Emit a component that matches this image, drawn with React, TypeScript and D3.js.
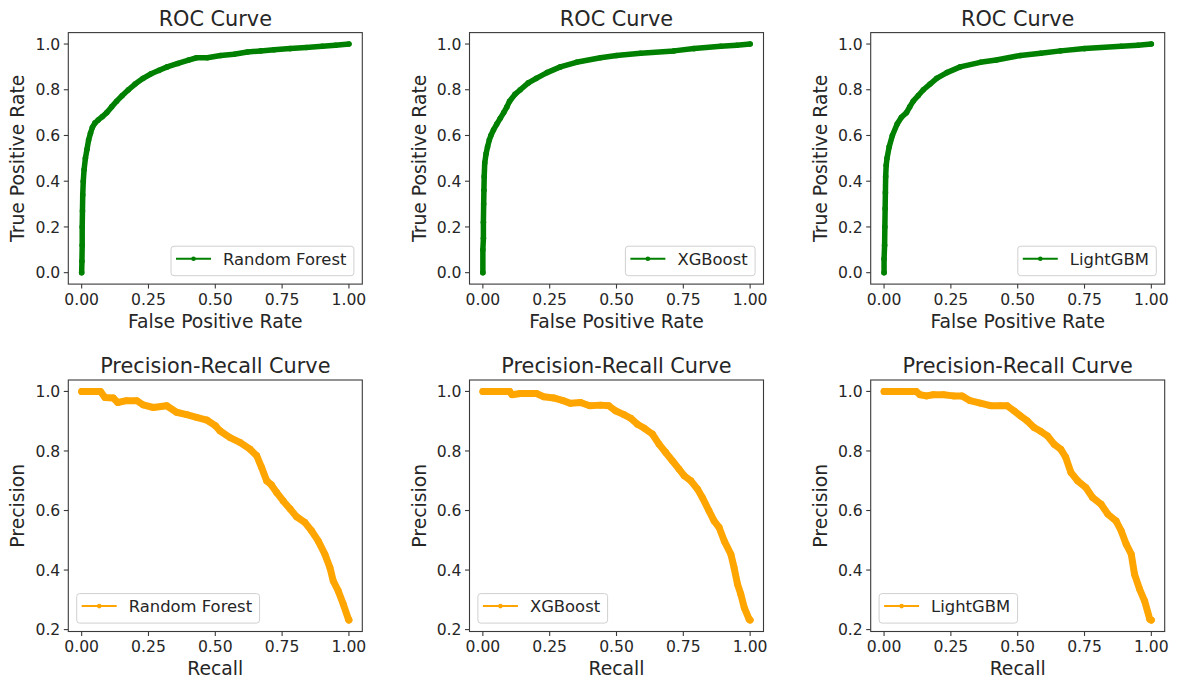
import React, { useEffect, useRef } from 'react';
import * as d3 from 'd3';

// models / tick labels
const MODELS = ['Random Forest', 'XGBoost', 'LightGBM'];
const X_TICKS = [0, 0.25, 0.5, 0.75, 1.0];
const ROC_Y_TICKS = [0, 0.2, 0.4, 0.6, 0.8, 1.0];
const PR_Y_TICKS = [0.2, 0.4, 0.6, 0.8, 1.0];

// ROC curves (false positive rate / true positive rate)
const rfFpr = [0, 0.001, 0.002, 0.002, 0.003, 0.004, 0.006, 0.009, 0.014, 0.02, 0.026, 0.033, 0.04, 0.05, 0.062, 0.078, 0.094, 0.112, 0.131, 0.152, 0.175, 0.2, 0.23, 0.26, 0.29, 0.32, 0.36, 0.4, 0.43, 0.47, 0.52, 0.57, 0.62, 0.67, 0.72, 0.78, 0.84, 0.9, 0.95, 1.0];
const rfTpr = [0, 0.05, 0.12, 0.2, 0.27, 0.34, 0.4, 0.45, 0.5, 0.54, 0.58, 0.61, 0.635, 0.655, 0.668, 0.683, 0.7, 0.725, 0.75, 0.775, 0.8, 0.825, 0.85, 0.87, 0.885, 0.9, 0.915, 0.93, 0.94, 0.94, 0.95, 0.955, 0.965, 0.97, 0.975, 0.98, 0.985, 0.99, 0.995, 1.0];

const xgbFpr = [0, 0, 0.002, 0.002, 0.003, 0.004, 0.005, 0.007, 0.012, 0.0175, 0.024, 0.03, 0.04, 0.052, 0.065, 0.078, 0.09, 0.1, 0.12, 0.14, 0.17, 0.2, 0.24, 0.29, 0.35, 0.44, 0.5, 0.59, 0.715, 0.79, 0.89, 0.95, 1.0];
const xgbTpr = [0, 0.1, 0.15, 0.22, 0.3, 0.36, 0.42, 0.48, 0.52, 0.55, 0.58, 0.6, 0.625, 0.65, 0.675, 0.7, 0.725, 0.75, 0.78, 0.8, 0.83, 0.85, 0.875, 0.9, 0.92, 0.94, 0.95, 0.96, 0.97, 0.98, 0.99, 0.995, 1.0];

const lgbFpr = [0, 0, 0.002, 0.003, 0.004, 0.005, 0.006, 0.008, 0.011, 0.019, 0.031, 0.049, 0.065, 0.084, 0.096, 0.109, 0.128, 0.147, 0.172, 0.197, 0.235, 0.285, 0.36, 0.42, 0.51, 0.586, 0.66, 0.75, 0.887, 0.95, 1.0];
const lgbTpr = [0, 0.06, 0.12, 0.2, 0.28, 0.35, 0.42, 0.47, 0.5, 0.55, 0.6, 0.65, 0.68, 0.7, 0.725, 0.75, 0.775, 0.8, 0.825, 0.85, 0.875, 0.9, 0.92, 0.93, 0.95, 0.96, 0.97, 0.98, 0.99, 0.995, 1.0];

// precision-recall curves
const rfRecall = [0, 0.03, 0.07, 0.087, 0.118, 0.135, 0.168, 0.206, 0.23, 0.268, 0.318, 0.355, 0.393, 0.43, 0.468, 0.5, 0.517, 0.555, 0.592, 0.63, 0.655, 0.673, 0.692, 0.71, 0.73, 0.754, 0.78, 0.804, 0.835, 0.86, 0.885, 0.91, 0.929, 0.941, 0.96, 0.979, 0.998, 1.0];
const rfPrecision = [1, 1, 1, 0.98, 0.978, 0.963, 0.969, 0.969, 0.955, 0.946, 0.952, 0.93, 0.922, 0.913, 0.904, 0.885, 0.868, 0.845, 0.829, 0.806, 0.784, 0.745, 0.7, 0.686, 0.66, 0.632, 0.605, 0.579, 0.56, 0.532, 0.498, 0.453, 0.408, 0.364, 0.33, 0.285, 0.235, 0.232];

const xgbRecall = [0, 0.05, 0.1, 0.109, 0.14, 0.2, 0.228, 0.265, 0.3, 0.328, 0.365, 0.4, 0.44, 0.471, 0.496, 0.528, 0.553, 0.578, 0.603, 0.634, 0.659, 0.684, 0.709, 0.734, 0.753, 0.778, 0.803, 0.821, 0.846, 0.865, 0.884, 0.903, 0.928, 0.94, 0.953, 0.965, 0.978, 0.996, 1.0];
const xgbPrecision = [1, 1, 1, 0.989, 0.993, 0.993, 0.982, 0.978, 0.969, 0.96, 0.963, 0.952, 0.954, 0.952, 0.935, 0.922, 0.91, 0.89, 0.877, 0.857, 0.823, 0.795, 0.767, 0.739, 0.717, 0.7, 0.672, 0.644, 0.599, 0.565, 0.543, 0.498, 0.453, 0.408, 0.352, 0.319, 0.274, 0.235, 0.232];

const lgbRecall = [0, 0.06, 0.12, 0.134, 0.159, 0.184, 0.222, 0.26, 0.291, 0.322, 0.36, 0.398, 0.435, 0.46, 0.486, 0.51, 0.536, 0.561, 0.586, 0.611, 0.636, 0.661, 0.68, 0.699, 0.724, 0.755, 0.78, 0.812, 0.837, 0.868, 0.887, 0.906, 0.925, 0.937, 0.956, 0.975, 0.994, 1.0];
const lgbPrecision = [1, 1, 1, 0.989, 0.985, 0.989, 0.989, 0.985, 0.985, 0.969, 0.961, 0.952, 0.952, 0.952, 0.935, 0.918, 0.901, 0.879, 0.866, 0.851, 0.823, 0.806, 0.778, 0.728, 0.7, 0.677, 0.644, 0.621, 0.588, 0.565, 0.532, 0.487, 0.453, 0.386, 0.336, 0.296, 0.235, 0.232];

const ROC_X = [rfFpr, xgbFpr, lgbFpr];
const ROC_Y = [rfTpr, xgbTpr, lgbTpr];
const PR_X = [rfRecall, xgbRecall, lgbRecall];
const PR_Y = [rfPrecision, xgbPrecision, lgbPrecision];

const W = 1179;
const H = 679;
const FONT = '"DejaVu Sans", sans-serif';
const TEXT = '#262626';
const SPINE = '#3a3a3a';

// pad a domain like matplotlib's 5% auto margins
function padded(vals: number[]): [number, number] {
  const [lo, hi] = d3.extent(vals) as [number, number];
  const m = (hi - lo) * 0.05;
  return [lo - m, hi + m];
}

export default function App() {
  const ref = useRef<SVGSVGElement>(null);

  useEffect(() => {
    draw();
    // eslint-disable-next-line react-hooks/exhaustive-deps
  }, []);

  function draw() {
    const svg = d3.select(ref.current);
    svg.selectAll('*').remove();
    svg.append('rect').attr('width', W).attr('height', H).attr('fill', '#fff');

    const axW = 294;
    const axH = 251.5;
    MODELS.forEach((name, i) => {
      const left = 68.3 + i * 401.2;
      drawPanel(svg, {
        left, top: 32.6, w: axW, h: axH,
        title: 'ROC Curve', xLabel: 'False Positive Rate', yLabel: 'True Positive Rate',
        xs: ROC_X[i], ys: ROC_Y[i], yTicks: ROC_Y_TICKS, color: '#008000',
        name, legend: 'lower right', band: 5.5, dot: 2.8,
      });
      drawPanel(svg, {
        left, top: 380, w: axW, h: axH,
        title: 'Precision-Recall Curve', xLabel: 'Recall', yLabel: 'Precision',
        xs: PR_X[i], ys: PR_Y[i], yTicks: PR_Y_TICKS, color: '#ffa500',
        name, legend: 'lower left', band: 7, dot: 3.4,
      });
    });
  }

  function drawPanel(svg: any, p: any) {
    const g = svg.append('g').attr('transform', `translate(${p.left},${p.top})`);
    const x = d3.scaleLinear().domain(padded(p.xs)).range([0, p.w]);
    const y = d3.scaleLinear().domain(padded(p.ys)).range([p.h, 0]);

    // curve: dense markers form a thick band
    const line = d3.line<number>().x((d, k) => x(p.xs[k])).y((d, k) => y(p.ys[k]));
    g.append('path')
      .datum(p.xs)
      .attr('d', line)
      .attr('fill', 'none')
      .attr('stroke', p.color)
      .attr('stroke-width', p.band)
      .attr('stroke-linejoin', 'round')
      .attr('stroke-linecap', 'round');
    g.selectAll('circle.pt')
      .data(p.xs)
      .join('circle')
      .attr('class', 'pt')
      .attr('cx', (d: number, k: number) => x(p.xs[k]))
      .attr('cy', (d: number, k: number) => y(p.ys[k]))
      .attr('r', p.dot)
      .attr('fill', p.color);

    // frame
    g.append('rect')
      .attr('width', p.w)
      .attr('height', p.h)
      .attr('fill', 'none')
      .attr('stroke', SPINE)
      .attr('stroke-width', 1.1);

    // x ticks
    const fx = d3.format('.2f');
    X_TICKS.forEach((t) => {
      g.append('line')
        .attr('x1', x(t)).attr('x2', x(t))
        .attr('y1', p.h).attr('y2', p.h + 4.5)
        .attr('stroke', SPINE).attr('stroke-width', 1.1);
      g.append('text')
        .attr('x', x(t)).attr('y', p.h + 20.5)
        .attr('text-anchor', 'middle')
        .attr('font-family', FONT).attr('font-size', 15.6).attr('fill', TEXT)
        .text(fx(t));
    });
    // y ticks
    const fy = d3.format('.1f');
    p.yTicks.forEach((t: number) => {
      g.append('line')
        .attr('x1', -4.5).attr('x2', 0)
        .attr('y1', y(t)).attr('y2', y(t))
        .attr('stroke', SPINE).attr('stroke-width', 1.1);
      g.append('text')
        .attr('x', -8).attr('y', y(t))
        .attr('dy', '0.36em')
        .attr('text-anchor', 'end')
        .attr('font-family', FONT).attr('font-size', 15.6).attr('fill', TEXT)
        .text(fy(t));
    });

    // title and labels
    g.append('text')
      .attr('x', p.w / 2).attr('y', -7)
      .attr('text-anchor', 'middle')
      .attr('font-family', FONT).attr('font-size', 20.8).attr('fill', TEXT)
      .text(p.title);
    g.append('text')
      .attr('x', p.w / 2).attr('y', p.h + 43.5)
      .attr('text-anchor', 'middle')
      .attr('font-family', FONT).attr('font-size', 18.8).attr('fill', TEXT)
      .text(p.xLabel);
    g.append('text')
      .attr('transform', `translate(-44,${p.h / 2}) rotate(-90)`)
      .attr('text-anchor', 'middle')
      .attr('font-family', FONT).attr('font-size', 18.8).attr('fill', TEXT)
      .text(p.yLabel);

    // legend
    const lg = g.append('g');
    const box = lg.append('rect');
    lg.append('line')
      .attr('x1', 5).attr('x2', 40).attr('y1', 12.5).attr('y2', 12.5)
      .attr('stroke', p.color).attr('stroke-width', 2);
    lg.append('circle').attr('cx', 22.5).attr('cy', 12.5).attr('r', 2.3).attr('fill', p.color);
    const txt = lg.append('text')
      .attr('x', 52).attr('y', 18.6)
      .attr('font-family', FONT).attr('font-size', 16.4).attr('fill', TEXT)
      .text(p.name);
    const tw = (txt.node() as SVGTextElement).getComputedTextLength();
    const bw = 52 + tw + 7.5;
    const bh = 29.5;
    box.attr('width', bw).attr('height', bh).attr('rx', 3)
      .attr('fill', 'rgba(255,255,255,0.8)').attr('stroke', '#d0d0d0').attr('stroke-width', 1);
    const lx = p.legend === 'lower right' ? p.w - 8.4 - bw : 8.4;
    lg.attr('transform', `translate(${lx},${p.h - 8.4 - bh})`);
  }

  return (
    <svg
      ref={ref}
      width={W}
      height={H}
      style={{ position: 'absolute', left: 0, top: 0, display: 'block' }}
    />
  );
}
